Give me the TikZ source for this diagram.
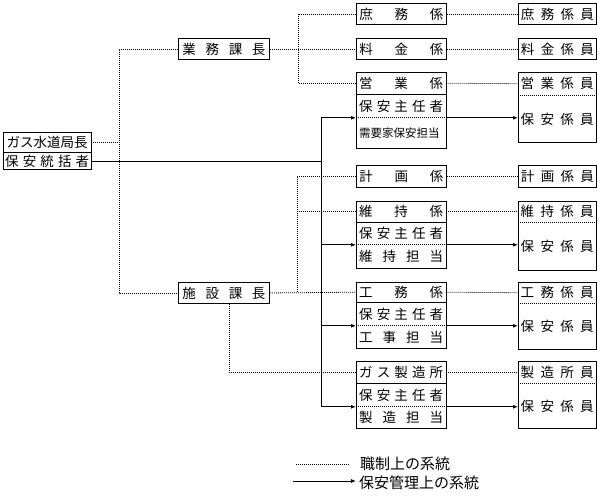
\documentclass[tikz,border=0pt]{standalone}
\usepackage{fontspec}
\setmainfont{Noto Sans CJK JP}
\usetikzlibrary{arrows.meta,calc,positioning}
\newcommand\spreadtext[2]{\makebox[#1][s]{#2}}

\begin{document}
\begin{tikzpicture}[x=1pt,y=-1pt,>={Latex[length=5pt,width=4pt]},
    cell/.style={inner sep=0pt,anchor=north west,font=\fontsize{13.5}{16}\selectfont},
    box/.style={cell,draw,line width=0.9pt},
    frame/.style={line width=0.9pt},
    rank/.style={line width=0.8pt,dash pattern=on 1pt off 1pt},
    safety/.style={line width=0.9pt}]
  \useasboundingbox (0,0) rectangle (597,496);

  \node[cell,minimum width=88pt,minimum height=20pt] (kyoku) at (3,132) {ガス水道局長};
  \node[cell,minimum width=88pt,minimum height=17pt] (tokatsu) at (kyoku.south west) {\spreadtext{84pt}{保 安 統 括 者}};
  \draw[frame] (kyoku.north west) rectangle (tokatsu.south east);
  \draw[frame] (kyoku.south west) -- (kyoku.south east);

  \node[box,minimum width=91pt,minimum height=21pt] (gyomu) at (178,38) {\spreadtext{83pt}{業 務 課 長}};
  \node[box,minimum width=91pt,minimum height=21pt] (shisetsu) at (178,282) {\spreadtext{83pt}{施 設 課 長}};

  \foreach \n/\y/\h/\t in {shomu/3/21/庶 務 係, ryokin/38/21/料 金 係, keikaku/165/22/計 画 係}
    \node[box,minimum width=90pt,minimum height=\h pt] (\n) at (356,\y) {\spreadtext{84pt}{\t}};
  \foreach \n/\y/\h/\t in {shomu-r/3/21/庶 務 係 員, ryokin-r/38/21/料 金 係 員, keikaku-r/165/22/計 画 係 員}
    \node[box,minimum width=78pt,minimum height=\h pt] (\n) at (518,\y) {\spreadtext{73pt}{\t}};

  \foreach \g/\y/\ha/\hb/\hc/\ta/\tc in {
      eigyo/72/22/23/30/営 業 係/{\fontsize{11.5}{13}\selectfont 需要家保安担当},
      iji/201/21/22/23/維 持 係/維 持 担 当,
      koumu/282/20/23/22/工 務 係/工 事 担 当,
      seizo/361/22/23/21/ガ ス 製 造 所/製 造 担 当} {
    \node[cell,minimum width=90pt,minimum height=\ha pt] (\g1) at (356,\y) {\spreadtext{84pt}{\ta}};
    \node[cell,minimum width=90pt,minimum height=\hb pt] (\g2) at (\g1.south west) {\spreadtext{84pt}{保 安 主 任 者}};
    \node[cell,minimum width=90pt,minimum height=\hc pt] (\g3) at (\g2.south west) {\spreadtext{84pt}{\tc}};
    \draw[frame] (\g1.north west) rectangle (\g3.south east);
    \draw[frame] (\g1.south west) -- (\g1.south east);
    \draw[rank] (\g2.south west) -- (\g2.south east);
  }

  \foreach \g/\y/\ha/\hb/\ta in {
      eigyo/72/23/47/営 業 係 員,
      iji/201/21/48/維 持 係 員,
      koumu/282/21/46/工 務 係 員,
      seizo/361/22/45/製 造 所 員} {
    \node[cell,minimum width=78pt,minimum height=\ha pt] (\g-r1) at (518,\y) {\spreadtext{73pt}{\ta}};
    \node[cell,minimum width=78pt,minimum height=\hb pt] (\g-r2) at (\g-r1.south west) {\spreadtext{73pt}{保 安 係 員}};
    \draw[frame] (\g-r1.north west) rectangle (\g-r2.south east);
    \draw[rank] (\g-r1.south west) -- (\g-r1.south east);
  }

  \coordinate (trunkR) at (119,0);
  \coordinate (forkG) at (298,0);
  \coordinate (forkS) at (297,0);
  \coordinate (trunkS) at (321,0);

  \draw[rank] (kyoku.east) -- (kyoku.east -| trunkR);
  \draw[rank] (gyomu.west) -| (trunkR |- kyoku.east) |- (shisetsu.west);
  \draw[rank] (gyomu.east) -- (ryokin.west);
  \draw[rank] (shomu.west) -| (forkG |- gyomu.east) |- (eigyo1.west);
  \draw[rank] (shisetsu.east) -- (koumu1.west);
  \draw[rank] (keikaku.west) -| (forkS |- shisetsu.east);
  \draw[rank] (iji1.west) -- (iji1.west -| forkS);
  \draw[rank] ([xshift=5pt]shisetsu.south) |- (seizo1.west);
  \foreach \a/\b in {shomu/shomu-r, ryokin/ryokin-r, keikaku/keikaku-r, eigyo1/eigyo-r1, iji1/iji-r1, koumu1/koumu-r1, seizo1/seizo-r1}
    \draw[rank] (\a.east) -- (\b.west);

  \draw[safety] (tokatsu.east) -- (tokatsu.east -| trunkS);
  \draw[safety,->] (seizo3.north west -| trunkS) |- (eigyo3.north west);
  \foreach \g in {iji,koumu,seizo}
    \draw[safety,->] (\g3.north west -| trunkS) -- (\g3.north west);
  \foreach \g in {eigyo,iji,koumu,seizo}
    \draw[safety,->] (\g3.north east) -- (\g3.north east -| \g-r2.west);

  \coordinate (legDotA) at (296,464);
  \coordinate (legDotB) at (350,464);
  \coordinate (legSolA) at (293,481);
  \coordinate (legSolB) at (356,481);
  \draw[rank] (legDotA) -- (legDotB);
  \draw[safety,->] (legSolA) -- (legSolB);
  \node[font=\fontsize{15}{17}\selectfont,anchor=west,inner sep=0pt] (legRank) at (360,464) {職制上の系統};
  \node[font=\fontsize{15}{17}\selectfont,anchor=west,inner sep=0pt] (legSafety) at (359,483) {保安管理上の系統};
\end{tikzpicture}
\end{document}
